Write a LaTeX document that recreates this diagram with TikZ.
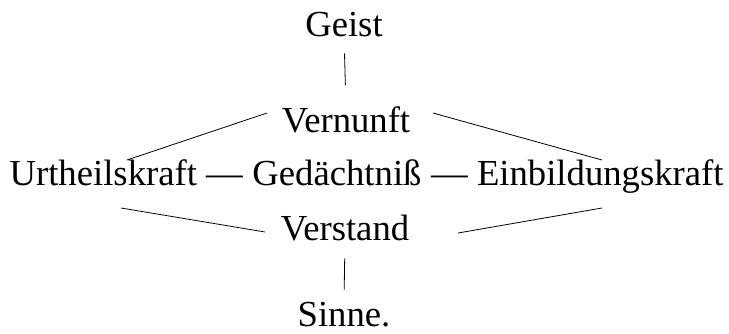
\documentclass[tikz,border=0pt]{standalone}
\usepackage{fontspec}
\setmainfont{Liberation Serif}
\usetikzlibrary{positioning}
\tikzset{
  word/.style={inner sep=0pt, anchor=base, text height=19pt, text depth=0pt,
    font=\fontsize{27.5}{33}\selectfont},
  bar/.style={line width=0.6pt},
}
\begin{document}
\begin{tikzpicture}[x=0.75pt,y=-0.75pt]
			\useasboundingbox (0,0) rectangle (729,333);

			\node[word] (geist) at (344,36) {Geist};
			\node[word] (vern) at (346,132) {Vernunft};
			\node[word] (ged) at (337,185) {Gedächtniß};
			\node[word, base left=0pt of ged] (urt) {Urtheilskraft —\kern0.25em};
			\node[word, base right=0pt of ged] (einb) {\kern0.25em— Einbildungskraft};
			\node[word] (verst) at (345,240) {Verstand};
			\node[word] (sinne) at (344,326) {Sinne.};

			\coordinate (vl) at (267,113);
			\coordinate (vr) at (433,113);
			\coordinate (ul) at (127,160);
			\coordinate (er) at (602,160);
			\coordinate (ul2) at (121,208);
			\coordinate (er2) at (602,208);
			\coordinate (sl) at (265,232);
			\coordinate (sr) at (458,233);

			\draw[bar, shorten <=12.75pt, shorten >=16pt] (geist.south) -- (vern.north);
			\draw[bar, shorten <=13.5pt, shorten >=8pt] (verst.south) -- (sinne.north);

			\draw[bar] (vl) -- (ul);
			\draw[bar] (vr) -- (er);
			\draw[bar] (ul2) -- (sl);
			\draw[bar] (sr) -- (er2);
		\end{tikzpicture}
\end{document}
